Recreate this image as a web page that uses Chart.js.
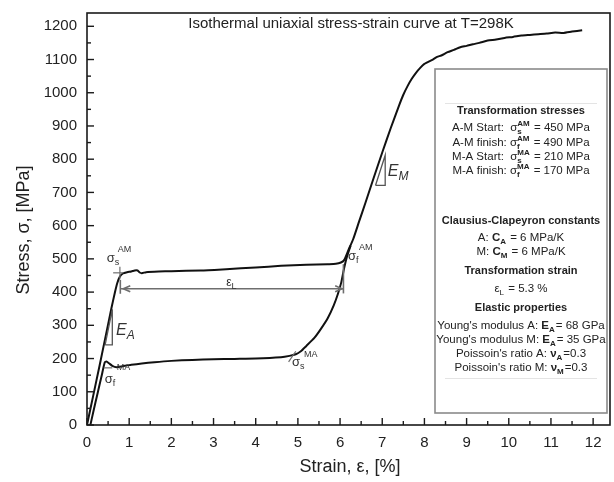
<!DOCTYPE html>
<html>
<head>
<meta charset="utf-8">
<script src="https://cdn.jsdelivr.net/npm/chart.js@4.4.0/dist/chart.umd.min.js"></script>
<style>
  html, body { margin: 0; padding: 0; background: #fff; }
  #wrap { width: 614px; height: 482px; }
</style>
</head>
<body>
<div id="wrap"><canvas id="curveChart" width="614" height="482"></canvas></div>
<script>
// === Data (strain in %, stress in MPa) ===
const loadStrain = [0, 0.15, 0.3, 0.45, 0.58, 0.66, 0.72, 0.78, 0.85, 0.95, 1.05, 1.13, 1.2, 1.25, 1.3, 1.4, 1.7, 2.0, 2.7, 3.3, 4.0, 4.6, 5.2, 5.7, 5.9, 6.02, 6.1, 6.2, 6.31, 6.45, 6.6, 6.8, 7.0, 7.2, 7.4, 7.5, 7.6, 7.7, 7.8, 7.9, 8.0, 8.2, 8.3, 8.4, 8.55, 8.7, 8.85, 9.0, 9.15, 9.3, 9.5, 9.7, 9.9, 10.1, 10.3, 10.5, 10.7, 10.9, 11.1, 11.3, 11.5, 11.74];
const loadStress = [0, 90, 180, 272, 352, 398, 428, 447, 456, 460, 462, 465, 465, 459, 457, 460, 462, 463, 465, 469, 474, 479, 482, 484, 485, 489, 497, 527, 559, 612, 668, 745, 820, 893, 962, 994, 1020, 1042, 1060, 1075, 1087, 1100, 1108, 1112, 1122, 1129, 1137, 1141, 1146, 1150, 1157, 1160, 1165, 1168, 1172, 1174, 1176, 1178, 1181, 1180, 1184, 1188];

const unloadStrain = [6.25, 6.16, 6.1, 6.03, 5.95, 5.85, 5.71, 5.55, 5.39, 5.2, 5.07, 4.95, 4.8, 4.6, 4.0, 3.5, 3.0, 2.5, 2.0, 1.6, 1.3, 1.05, 0.85, 0.7, 0.6, 0.52, 0.46, 0.42, 0.35, 0.25, 0.15, 0.08];
const unloadStress = [540, 505, 474, 430, 395, 360, 322, 290, 262, 238, 222, 213, 208, 204, 200, 199, 198, 196, 193, 189, 185, 181, 177, 174, 178, 186, 191, 188, 150, 95, 40, 0];

const xTicks = [0, 1, 2, 3, 4, 5, 6, 7, 8, 9, 10, 11, 12];
const yTicks = [0, 100, 200, 300, 400, 500, 600, 700, 800, 900, 1000, 1100, 1200];

// === Styles ===
const FONT = 'Arial, "Liberation Sans", sans-serif';
const INK = '#222';
const GREY = '#6e6e6e';

// text box lines: [centre y, parts]
const boxLines = [
  [110, [{ t: 'Transformation stresses', b: 1 }]],
  [127, [{ t: 'A-M Start:  σ' }, { sub: 's', sup: 'AM', b: 1 }, { t: ' = 450 MPa' }]],
  [142, [{ t: 'A-M finish: σ' }, { sub: 'f', sup: 'AM', b: 1 }, { t: ' = 490 MPa' }]],
  [156, [{ t: 'M-A Start:  σ' }, { sub: 's', sup: 'MA', b: 1 }, { t: ' = 210 MPa' }]],
  [170, [{ t: 'M-A finish: σ' }, { sub: 'f', sup: 'MA', b: 1 }, { t: ' = 170 MPa' }]],
  [220, [{ t: 'Clausius-Clapeyron constants', b: 1 }]],
  [237, [{ t: 'A: ' }, { t: 'C', b: 1 }, { sub: 'A', b: 1 }, { t: ' = 6 MPa/K' }]],
  [251, [{ t: 'M: ' }, { t: 'C', b: 1 }, { sub: 'M', b: 1 }, { t: ' = 6 MPa/K' }]],
  [270, [{ t: 'Transformation strain', b: 1 }]],
  [288, [{ t: 'ε' }, { sub: 'L' }, { t: ' = 5.3 %' }]],
  [307, [{ t: 'Elastic properties', b: 1 }]],
  [325, [{ t: "Young's modulus A: " }, { t: 'E', b: 1 }, { sub: 'A', b: 1 }, { t: '= 68 GPa' }]],
  [339, [{ t: "Young's modulus M: " }, { t: 'E', b: 1 }, { sub: 'A', b: 1 }, { t: '= 35 GPa' }]],
  [353, [{ t: "Poissoin's ratio A: " }, { t: 'ν', b: 1 }, { sub: 'A', b: 1 }, { t: '=0.3' }]],
  [367, [{ t: "Poissoin's ratio M: " }, { t: 'ν', b: 1 }, { sub: 'M', b: 1 }, { t: '=0.3' }]]
];

function fontOf(p, size) {
  return (p.i ? 'italic ' : '') + (p.b ? 'bold ' : '') + size + 'px ' + FONT;
}

function drawRich(ctx, parts, x, y, size, align, supDy) {
  const small = Math.round(size * 0.72);
  const widths = parts.map(p => {
    if (p.t !== undefined) {
      ctx.font = fontOf(p, size);
      return ctx.measureText(p.t).width;
    }
    ctx.font = fontOf(p, small);
    const a = p.sub ? ctx.measureText(p.sub).width : 0;
    const b = p.sup ? ctx.measureText(p.sup).width + (p.supDx || 0) : 0;
    return Math.max(a, b) + 1;
  });
  const total = widths.reduce((a, b) => a + b, 0);
  let cx = align === 'center' ? x - total / 2 : x;
  ctx.textAlign = 'left';
  ctx.textBaseline = 'alphabetic';
  parts.forEach((p, i) => {
    if (p.t !== undefined) {
      ctx.font = fontOf(p, size);
      ctx.fillText(p.t, cx, y);
    } else {
      ctx.font = fontOf(p, small);
      if (p.sub) ctx.fillText(p.sub, cx, y + size * 0.25);
      if (p.sup) ctx.fillText(p.sup, cx + (p.supDx || 0), y - (supDy || size * 0.42));
    }
    cx += widths[i];
  });
}

function line(ctx, pts) {
  ctx.beginPath();
  pts.forEach((p, i) => i ? ctx.lineTo(p[0], p[1]) : ctx.moveTo(p[0], p[1]));
  ctx.stroke();
}

// === Decorations: frame, inward ticks, annotations, text panel ===
const decor = {
  id: 'decor',
  afterDatasetsDraw(chart) {
    const ctx = chart.ctx;
    const xs = chart.scales.x, ys = chart.scales.y;
    const a = chart.chartArea;
    const px = v => xs.getPixelForValue(v);
    const py = v => ys.getPixelForValue(v);

    ctx.save();
    // frame
    ctx.strokeStyle = '#1a1a1a';
    ctx.lineWidth = 1.6;
    ctx.strokeRect(a.left, a.top, a.right - a.left, a.bottom - a.top);

    // inward ticks, major + minor
    ctx.lineWidth = 1.4;
    for (let i = 0; i < xTicks.length; i++) {
      line(ctx, [[px(xTicks[i]), a.bottom], [px(xTicks[i]), a.bottom - 7]]);
      const mid = xTicks[i] + 0.5;
      if (mid < xs.max) line(ctx, [[px(mid), a.bottom], [px(mid), a.bottom - 4]]);
    }
    for (let i = 0; i < yTicks.length; i++) {
      line(ctx, [[a.left, py(yTicks[i])], [a.left + 7, py(yTicks[i])]]);
      const mid = yTicks[i] + 50;
      if (mid < ys.max) line(ctx, [[a.left, py(mid)], [a.left + 4, py(mid)]]);
    }

    // transformation strain arrow
    ctx.strokeStyle = GREY;
    ctx.lineWidth = 1.6;
    const yA = py(410);
    line(ctx, [[px(0.79), yA], [px(6.08), yA]]);
    line(ctx, [[px(0.79), py(395)], [px(0.79), py(437)]]);
    line(ctx, [[px(6.08), py(396)], [px(6.08), py(484)]]);
    line(ctx, [[px(0.86) + 7, yA - 3], [px(0.86), yA], [px(0.86) + 7, yA + 3]]);
    line(ctx, [[px(6.05) - 7, yA - 3], [px(6.05), yA], [px(6.05) - 7, yA + 3]]);

    // sigma_s^AM cross marker
    ctx.lineWidth = 1.2;
    line(ctx, [[px(0.62), py(458)], [px(0.86), py(458)]]);
    line(ctx, [[px(0.78), py(440)], [px(0.78), py(476)]]);
    // sigma_f^MA marker
    line(ctx, [[px(0.4), py(172)], [px(0.6), py(172)]]);
    // sigma_s^MA marker
    line(ctx, [[px(4.78), py(190)], [px(4.95), py(222)]]);

    // elastic modulus triangles
    ctx.strokeStyle = '#555';
    ctx.lineWidth = 1.3;
    line(ctx, [[px(0.43), py(241)], [px(0.6), py(241)], [px(0.6), py(348)], [px(0.43), py(241)]]);
    line(ctx, [[px(6.84), py(721)], [px(7.07), py(721)], [px(7.07), py(812)], [px(6.84), py(721)]]);

    // annotation labels
    ctx.fillStyle = '#333';
    drawRich(ctx, [{ t: 'σ' }, { sub: 's', sup: 'AM', supDx: 3 }], px(0.47), py(490), 13, 'left', 10);
    drawRich(ctx, [{ t: 'σ' }, { sub: 'f', sup: 'AM', supDx: 3 }], px(6.19), py(496), 13, 'left', 10);
    drawRich(ctx, [{ t: 'σ' }, { sub: 's', sup: 'MA', supDx: 4 }], px(4.86), py(177), 13, 'left', 9);
    drawRich(ctx, [{ t: 'σ' }, { sub: 'f', sup: 'MA', supDx: 4 }], px(0.42), py(126), 13, 'left', 13);
    drawRich(ctx, [{ t: 'ε' }, { sub: 'L' }], px(3.3), py(418), 12, 'left');
    drawRich(ctx, [{ t: 'E', i: 1 }, { sub: 'A', i: 1 }], px(0.69), py(272), 16, 'left');
    drawRich(ctx, [{ t: 'E', i: 1 }, { sub: 'M', i: 1 }], px(7.13), py(750), 16, 'left');

    // text panel
    const bx = 435, by = 69, bw = 172, bh = 344;
    ctx.fillStyle = '#fff';
    ctx.fillRect(bx, by, bw, bh);
    ctx.strokeStyle = '#8a8a8a';
    ctx.lineWidth = 1.6;
    ctx.strokeRect(bx, by, bw, bh);
    ctx.strokeStyle = '#e4e4e4';
    ctx.lineWidth = 1;
    line(ctx, [[bx + 10, 103.5], [bx + bw - 10, 103.5]]);
    line(ctx, [[bx + 10, 378.5], [bx + bw - 10, 378.5]]);
    ctx.beginPath();
    ctx.rect(bx + 1, by + 1, bw - 2, bh - 2);
    ctx.clip();
    ctx.fillStyle = INK;
    boxLines.forEach(([cy, parts]) => {
      const bold = parts.length === 1 && parts[0].b;
      drawRich(ctx, parts, 521, cy + 4, bold ? 11 : 11.5, 'center');
    });
    ctx.restore();

    // title and axis titles
    ctx.save();
    ctx.fillStyle = INK;
    ctx.textAlign = 'center';
    ctx.textBaseline = 'middle';
    ctx.font = '15px ' + FONT;
    ctx.fillText('Isothermal uniaxial stress-strain curve at T=298K', 351, 24);
    ctx.font = '18px ' + FONT;
    ctx.fillText('Strain, ε, [%]', 350, 467);
    ctx.translate(24, 230);
    ctx.rotate(-Math.PI / 2);
    ctx.fillText('Stress, σ, [MPa]', 0, 0);
    ctx.restore();
  }
};

// === Graphique ===
window.addEventListener('load', () => {
  const ctx = document.getElementById('curveChart').getContext('2d');
  new Chart(ctx, {
    type: 'scatter',
    data: {
      datasets: [{
        label: 'Loading',
        data: loadStrain.map((x, i) => ({ x: x, y: loadStress[i] })),
        showLine: true,
        borderColor: '#111',
        borderWidth: 2,
        pointRadius: 0,
        tension: 0.2
      }, {
        label: 'Unloading',
        data: unloadStrain.map((x, i) => ({ x: x, y: unloadStress[i] })),
        showLine: true,
        borderColor: '#111',
        borderWidth: 2,
        pointRadius: 0,
        tension: 0.2
      }]
    },
    options: {
      responsive: false,
      animation: false,
      devicePixelRatio: 1,
      layout: { padding: { top: 13, right: 4, left: 0, bottom: 0 } },
      plugins: { legend: { display: false }, tooltip: { enabled: false } },
      scales: {
        x: {
          type: 'linear',
          min: 0,
          max: 12.4,
          afterBuildTicks: s => { s.ticks = xTicks.map(v => ({ value: v })); },
          afterFit: s => { s.height = 57; s.paddingLeft = 0; s.paddingRight = 0; },
          grid: { display: false, drawTicks: false },
          border: { display: false },
          ticks: { padding: 9, color: INK, font: { size: 15, family: FONT }, maxRotation: 0, autoSkip: false, callback: v => String(v) }
        },
        y: {
          type: 'linear',
          min: 0,
          max: 1240,
          afterBuildTicks: s => { s.ticks = yTicks.map(v => ({ value: v })); },
          afterFit: s => { s.width = 87; s.paddingTop = 0; s.paddingBottom = 0; },
          grid: { display: false, drawTicks: false },
          border: { display: false },
          ticks: { padding: 10, color: INK, font: { size: 15, family: FONT }, autoSkip: false, callback: v => String(v) }
        }
      }
    },
    plugins: [decor]
  });
});
</script>
</body>
</html>
